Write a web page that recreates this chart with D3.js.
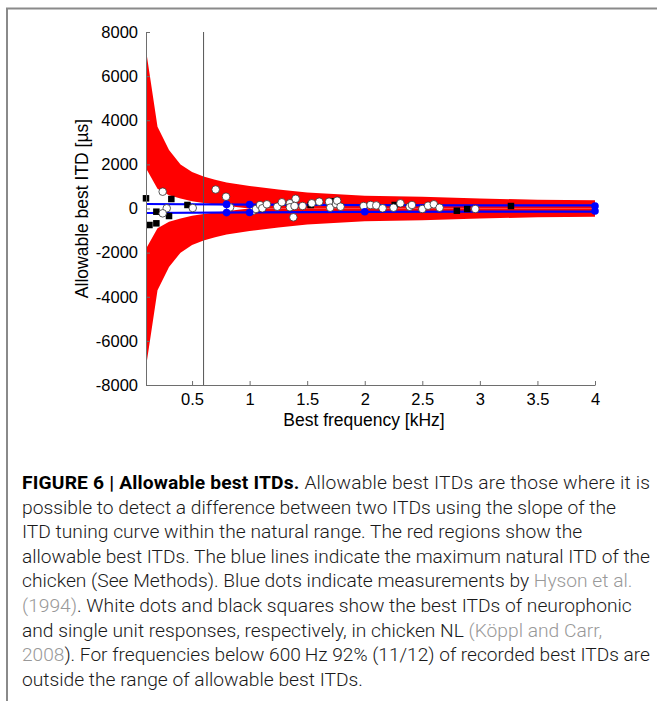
<!DOCTYPE html>
<html>
<head>
<meta charset="utf-8">
<script src="https://cdn.jsdelivr.net/npm/d3@7"></script>
<style>
  body { margin: 0; background: #fff; }
  svg { display: block; }
  .tick text { font-family: "Liberation Sans", Arial, sans-serif; font-size: 16.5px; fill: #000; }
  .axis path, .axis line { stroke: #6e6e6e; }
  .label { font-family: "Liberation Sans", Arial, sans-serif; font-size: 17.5px; fill: #000; }
  .caption { font-family: Roboto, "Open Sans", sans-serif; font-weight: 300; fill: #1a1a1a; }
</style>
</head>
<body>
<div id="chart"></div>
<script>
// red allowable region, sampled boundaries (kHz, µs)
const bandFreq  = [0.1, 0.2, 0.3, 0.4, 0.5, 0.6, 0.7, 0.8, 0.9, 1.0, 1.25, 1.5, 2.0, 2.5, 3.0, 3.5, 4.0]
const bandOuter = [7180, 3700, 2650, 2000, 1650, 1450, 1300, 1180, 1100, 1020, 860, 720, 580, 530, 450, 400, 370]
const bandInner = [1830, 900, 600, 450, 330, 250, 180, 120, 60, 0, 0, 0, 0, 0, 0, 0, 0]

// maximum natural ITD of the chicken (blue lines)
const blueFreq = [0.1, 1.0, 2.0, 3.0, 4.0]
const blueMax  = [205, 175, 155, 145, 140]

// Hyson et al. (1994), blue dots
const hysonFreq = [0.8, 0.8, 1.0, 1.0, 2.0, 4.0, 4.0]
const hysonItd  = [185, -185, 180, -180, -150, 110, -110]

// neurophonic best ITDs, white dots
const neuroFreq = [0.245, 0.28, 0.245, 0.506, 0.705, 0.795, 0.83, 1.03, 1.055, 1.09, 1.11, 1.15, 1.24, 1.28,
  1.35, 1.35, 1.38, 1.40, 1.39, 1.46, 1.54, 1.605, 1.69, 1.70, 1.75, 1.76, 1.79, 1.99, 2.05, 2.10, 2.155,
  2.25, 2.31, 2.39, 2.41, 2.50, 2.55, 2.60, 2.65, 2.96]
const neuroItd  = [762, 10, -218, 22, 860, 535, 50, -100, -23, 159, 9, 190, 82, 280,
  235, 54, -400, 440, 113, 113, 235, 308, 308, 36, 204, 354, 82, 113, 159, 140, 9,
  36, 235, 82, 159, -23, 127, 190, 36, -23]

// single unit best ITDs, black squares
const unitFreq = [0.1, 0.32, 0.46, 0.19, 0.30, 0.13, 0.19, 1.53, 1.73, 2.26, 2.80, 2.89, 3.27]
const unitItd  = [462, 430, 160, -145, -340, -748, -672, 159, 330, 159, -100, -23, 113]

const xTicks = [0.5, 1, 1.5, 2, 2.5, 3, 3.5, 4]
const yTicks = [-8000, -6000, -4000, -2000, 0, 2000, 4000, 6000, 8000]
const cutoffFreq = 0.6

const width = 657
const height = 701

const svg = d3.select('#chart').append('svg')
  .attr('width', width)
  .attr('height', height)

// figure frame
svg.append('path')
  .attr('d', `M7,${height} V8.5 H${width}`)
  .attr('fill', 'none')
  .attr('stroke', '#8a8a8a')
  .attr('stroke-width', 2)

const x = d3.scaleLinear().domain([0.1, 4]).range([146, 595])
const y = d3.scaleLinear().domain([-8000, 8000]).range([385, 32])

const band = bandFreq.map((f, i) => ({ f, outer: bandOuter[i], inner: bandInner[i] }))

const upper = d3.area()
  .x(d => x(d.f))
  .y0(d => y(d.inner))
  .y1(d => y(d.outer))
const lower = d3.area()
  .x(d => x(d.f))
  .y0(d => y(-d.inner))
  .y1(d => y(-d.outer))

svg.append('path').datum(band).attr('d', upper).attr('fill', '#ff0000')
svg.append('path').datum(band).attr('d', lower).attr('fill', '#ff0000')

// 600 Hz marker
svg.append('line')
  .attr('x1', x(cutoffFreq)).attr('x2', x(cutoffFreq))
  .attr('y1', y(8000)).attr('y2', y(-8000))
  .attr('stroke', '#555')
  .attr('stroke-width', 1)

// blue lines
const blue = blueFreq.map((f, i) => ({ f, v: blueMax[i] }))
const blueLine = sign => d3.line().x(d => x(d.f)).y(d => y(sign * d.v))
svg.append('path').datum(blue).attr('d', blueLine(1))
  .attr('fill', 'none').attr('stroke', '#0000ff').attr('stroke-width', 2.2)
svg.append('path').datum(blue).attr('d', blueLine(-1))
  .attr('fill', 'none').attr('stroke', '#0000ff').attr('stroke-width', 2.2)

// black squares
const sq = 6.5
svg.append('g').selectAll('rect')
  .data(unitFreq.map((f, i) => ({ f, v: unitItd[i] })))
  .enter()
  .append('rect')
  .attr('x', d => x(d.f) - sq / 2)
  .attr('y', d => y(d.v) - sq / 2)
  .attr('width', sq)
  .attr('height', sq)
  .attr('fill', '#000')

// white dots
svg.append('g').selectAll('circle')
  .data(neuroFreq.map((f, i) => ({ f, v: neuroItd[i] })))
  .enter()
  .append('circle')
  .attr('cx', d => x(d.f))
  .attr('cy', d => y(d.v))
  .attr('r', 3.8)
  .attr('fill', '#fff')
  .attr('stroke', '#333')
  .attr('stroke-width', 0.8)

// blue dots
svg.append('g').selectAll('circle')
  .data(hysonFreq.map((f, i) => ({ f, v: hysonItd[i] })))
  .enter()
  .append('circle')
  .attr('cx', d => x(d.f))
  .attr('cy', d => y(d.v))
  .attr('r', 3.8)
  .attr('fill', '#0000ff')

// axes (plain hyphen minus like the original)
const fmt = d => String(d)

svg.append('g')
  .attr('class', 'axis')
  .attr('transform', `translate(0, ${y(-8000)})`)
  .call(d3.axisBottom(x).tickValues(xTicks).tickFormat(fmt).tickSizeInner(-4).tickSizeOuter(0).tickPadding(8))

svg.append('g')
  .attr('class', 'axis')
  .attr('transform', `translate(${x(0.1)}, 0)`)
  .call(d3.axisLeft(y).tickValues(yTicks).tickFormat(fmt).tickSizeInner(-4).tickSizeOuter(0).tickPadding(8))

svg.append('text')
  .attr('class', 'label')
  .attr('text-anchor', 'middle')
  .attr('transform', `translate(88, ${y(0)}) rotate(-90)`)
  .text('Allowable best ITD [µs]')

svg.append('text')
  .attr('class', 'label')
  .attr('text-anchor', 'middle')
  .attr('x', 364)
  .attr('y', 426)
  .text('Best frequency [kHz]')

// caption
const grey = '#999'
const captionLines = [
  [['FIGURE 6 | Allowable best ITDs.', 'bold'], [' Allowable best ITDs are those where it is']],
  [['possible to detect a difference between two ITDs using the slope of the']],
  [['ITD tuning curve within the natural range. The red regions show the']],
  [['allowable best ITDs. The blue lines indicate the maximum natural ITD of the']],
  [['chicken (See Methods). Blue dots indicate measurements by '], ['Hyson et al.', 'cite']],
  [['(1994)', 'cite'], ['. White dots and black squares show the best ITDs of neurophonic']],
  [['and single unit responses, respectively, in chicken NL '], ['(Köppl and Carr,', 'cite']],
  [['2008', 'cite'], ['). For frequencies below 600\u2009Hz 92% (11/12) of recorded best ITDs are']],
  [['outside the range of allowable best ITDs.']]
]

const texts = captionLines.map((segs, i) => {
  const t = svg.append('text')
    .attr('class', 'caption')
    .attr('x', 22)
    .attr('y', 489 + i * 24.6)
    .style('font-size', '17px')
  segs.forEach(([s, kind]) => {
    const sp = t.append('tspan').text(s)
    if (kind === 'bold') sp.attr('font-weight', 700).attr('fill', '#000')
    if (kind === 'cite') sp.attr('fill', grey)
  })
  return t
})

// size the caption so the last line spans as in the original, keep long lines inside the frame
const lastW = texts[texts.length - 1].node().getComputedTextLength()
const fs = 17 * (363 - 22) / lastW
texts.forEach((t, i) => {
  t.style('font-size', fs + 'px')
  const w = t.node().getComputedTextLength()
  if (w > 628) t.attr('textLength', 628).attr('lengthAdjust', 'spacingAndGlyphs')
  if (i === 0) t.attr('textLength', 628).attr('lengthAdjust', 'spacing')
})
</script>
</body>
</html>
